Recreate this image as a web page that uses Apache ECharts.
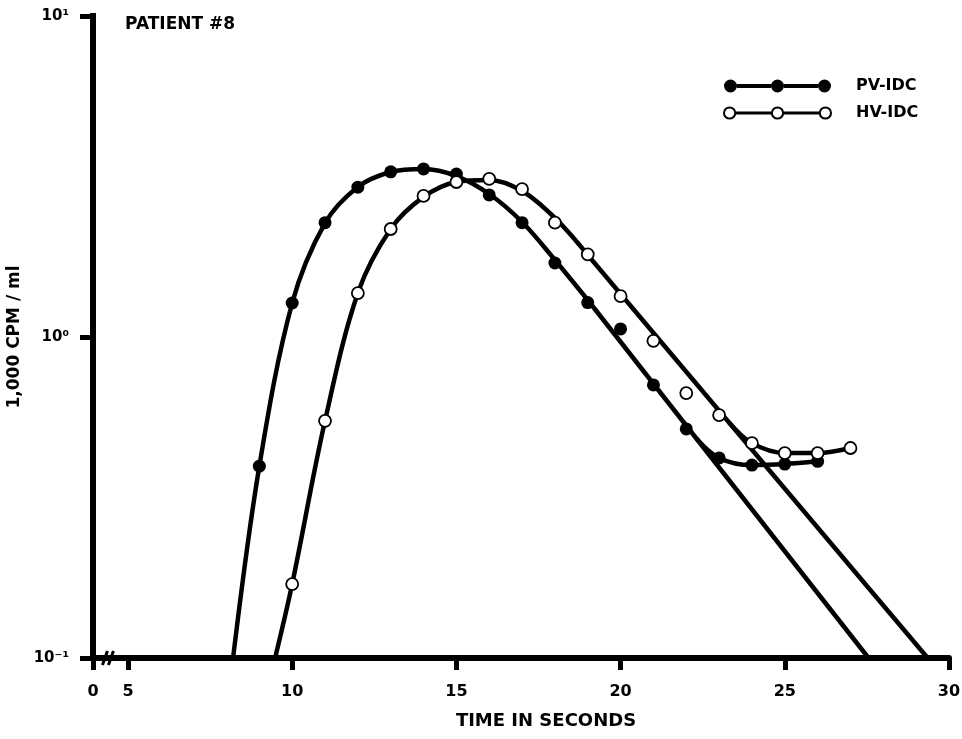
<!DOCTYPE html>
<html><head><meta charset="utf-8">
<script src="https://cdn.jsdelivr.net/npm/echarts@6/dist/echarts.min.js"></script>
<style>html,body{margin:0;padding:0;background:#fff}#c{width:962px;height:739px}</style>
</head><body><div id="c"></div>
<script>
// ---- axis ticks ----
const xTickValues = [3.935, 5, 10, 15, 20, 25, 30];   // 3.935 is the "0" position before the axis break
const xTickLabels = ['0', '5', '10', '15', '20', '25', '30'];
const yTickLabels = { '-1': '10⁻¹', '0': '10⁰', '1': '10¹' };

// ---- measured points ----
const pvTimes  = [9, 10, 11, 12, 13, 14, 15, 16, 17, 18, 19, 20, 21, 22, 23, 24, 25, 26];
const pvCounts = [0.396, 1.276, 2.27, 2.93, 3.27, 3.34, 3.22, 2.77, 2.27, 1.70, 1.28, 1.06, 0.709, 0.517, 0.42, 0.399, 0.402, 0.41];
const hvTimes  = [10, 11, 12, 13, 14, 15, 16, 17, 18, 19, 20, 21, 22, 23, 24, 25, 26, 27];
const hvCounts = [0.170, 0.548, 1.37, 2.17, 2.75, 3.04, 3.11, 2.89, 2.27, 1.81, 1.34, 0.973, 0.669, 0.571, 0.467, 0.435, 0.435, 0.451];

// ---- fitted curves ----
const pvRiseCurve = [[8.2, 0.1], [9, 0.396], [10, 1.276], [11, 2.265], [12, 2.934], [13, 3.266], [14, 3.337], [15, 3.173], [16, 2.789], [17, 2.282], [18, 1.738], [19, 1.304]];
const pvDecayLine = [[19, 1.304], [27.55, 0.1]];
const pvTailCurve = [[22.3, 0.484], [23, 0.42], [24, 0.399], [25, 0.402], [26, 0.41]];
const hvRiseCurve = [[9.48, 0.1], [10, 0.170], [11, 0.548], [12, 1.371], [13, 2.170], [14, 2.731], [15, 3.040], [16, 3.084], [17, 2.850], [18, 2.349], [19, 1.801]];
const hvDecayLine = [[19, 1.801], [29.35, 0.1]];
const hvTailCurve = [[23.3, 0.542], [24, 0.467], [25, 0.435], [26, 0.435], [27, 0.451]];

const FONT = 'DejaVu Sans';
const pvPoints = pvTimes.map((t, i) => [t, pvCounts[i]]);
const hvPoints = hvTimes.map((t, i) => [t, hvCounts[i]]);

const circ = (x, r) => `M${x - r},6.5a${r},${r} 0 1,0 ${2 * r},0a${r},${r} 0 1,0 ${-2 * r},0Z`;
const pvIcon = 'path://' + circ(6.5, 6.5) + circ(53.5, 6.5) + circ(100.5, 6.5) + 'M13,4.5h34v4h-34Z M60,4.5h34v4h-34Z';
const hvIcon = 'path://' + circ(6.5, 5.5) + circ(53.5, 5.5) + circ(100.5, 5.5) + 'M12,6h35v1h-35Z M59,6h35v1h-35Z';

const curveStyle = { color: '#000', width: 4.5 };
function curve(name, data, smooth) {
  return { name, type: 'line', data, smooth: smooth ? 0.35 : false, showSymbol: false, symbol: 'none',
    lineStyle: curveStyle, itemStyle: { color: '#000' }, z: 2, silent: true };
}

const chart = echarts.init(document.getElementById('c'), null, { renderer: 'canvas' });
chart.setOption({
  animation: false,
  backgroundColor: '#fff',
  title: { text: 'PATIENT #8', left: 125, top: 16, padding: 0,
    textStyle: { fontFamily: FONT, fontSize: 17, fontWeight: 'bold', color: '#000' } },
  legend: {
    orient: 'vertical', left: 723, top: 78, itemWidth: 107, itemHeight: 13, itemGap: 11,
    padding: 0, selectedMode: false,
    textStyle: { fontFamily: FONT, fontSize: 16, fontWeight: 'bold', color: '#000', padding: [0, 0, 0, 20] },
    data: [
      { name: 'PV-IDC', icon: pvIcon, itemStyle: { color: '#000', borderWidth: 0 } },
      { name: 'HV-IDC', icon: hvIcon, itemStyle: { color: '#fff', borderColor: '#000', borderWidth: 2 } }
    ]
  },
  grid: { left: 93, right: 13, top: 16, bottom: 81, containLabel: false, outerBoundsMode: 'none' },
  xAxis: {
    type: 'value', min: 3.935, max: 30,
    name: 'TIME IN SECONDS', nameLocation: 'middle', nameGap: 54,
    nameTextStyle: { fontFamily: FONT, fontSize: 18, fontWeight: 'bold', color: '#000', padding: [0, 0, 0, 50] },
    axisLine: { lineStyle: { color: '#000', width: 6 } },
    axisTick: { customValues: xTickValues, length: 12, lineStyle: { color: '#000', width: 5 } },
    axisLabel: { customValues: xTickValues, margin: 26, fontFamily: FONT, fontSize: 16, fontWeight: 'bold', color: '#000',
      formatter: v => { let best = 0; xTickValues.forEach((t, i) => { if (Math.abs(t - v) < Math.abs(xTickValues[best] - v)) best = i; }); return xTickLabels[best]; } },
    splitLine: { show: false }
  },
  yAxis: {
    type: 'log', logBase: 10, min: 0.1, max: 10,
    name: '1,000 CPM / ml', nameLocation: 'middle', nameGap: 64, nameRotate: 90,
    nameTextStyle: { fontFamily: FONT, fontSize: 17, fontWeight: 'bold', color: '#000' },
    axisLine: { lineStyle: { color: '#000', width: 6, cap: 'square' } },
    axisTick: { length: 13, lineStyle: { color: '#000', width: 5 } },
    axisLabel: { margin: 24, fontFamily: FONT, fontSize: 15, fontWeight: 'bold', color: '#000',
      formatter: v => yTickLabels[String(Math.round(Math.log10(v)))] || '' },
    splitLine: { show: false }, minorTick: { show: false }
  },
  series: [
    curve('PV-IDC', pvRiseCurve, true),
    curve('PV-IDC', pvDecayLine, false),
    curve('PV-IDC', pvTailCurve, true),
    curve('HV-IDC', hvRiseCurve, true),
    curve('HV-IDC', hvDecayLine, false),
    curve('HV-IDC', hvTailCurve, true),
    { name: 'PV-IDC', type: 'scatter', data: pvPoints, symbol: 'circle', symbolSize: 13,
      itemStyle: { color: '#000', opacity: 1 }, z: 4 },
    { name: 'HV-IDC', type: 'scatter', data: hvPoints, symbol: 'circle', symbolSize: 12,
      itemStyle: { color: '#fff', borderColor: '#000', borderWidth: 1.8, opacity: 1 }, z: 5 }
  ]
});

// axis-break marks "//" on the x axis, placed through the axis scale
const bp = chart.convertToPixel({ xAxisIndex: 0, yAxisIndex: 0 }, [4.39, 0.1]);
chart.setOption({
  graphic: [
    { type: 'line', z: 10, shape: { x1: bp[0] - 5.5, y1: bp[1] + 7, x2: bp[0] - 0.5, y2: bp[1] - 7 }, style: { stroke: '#000', lineWidth: 3 } },
    { type: 'line', z: 10, shape: { x1: bp[0] + 0.5, y1: bp[1] + 7, x2: bp[0] + 5.5, y2: bp[1] - 7 }, style: { stroke: '#000', lineWidth: 3 } }
  ]
});
</script>
</body></html>
